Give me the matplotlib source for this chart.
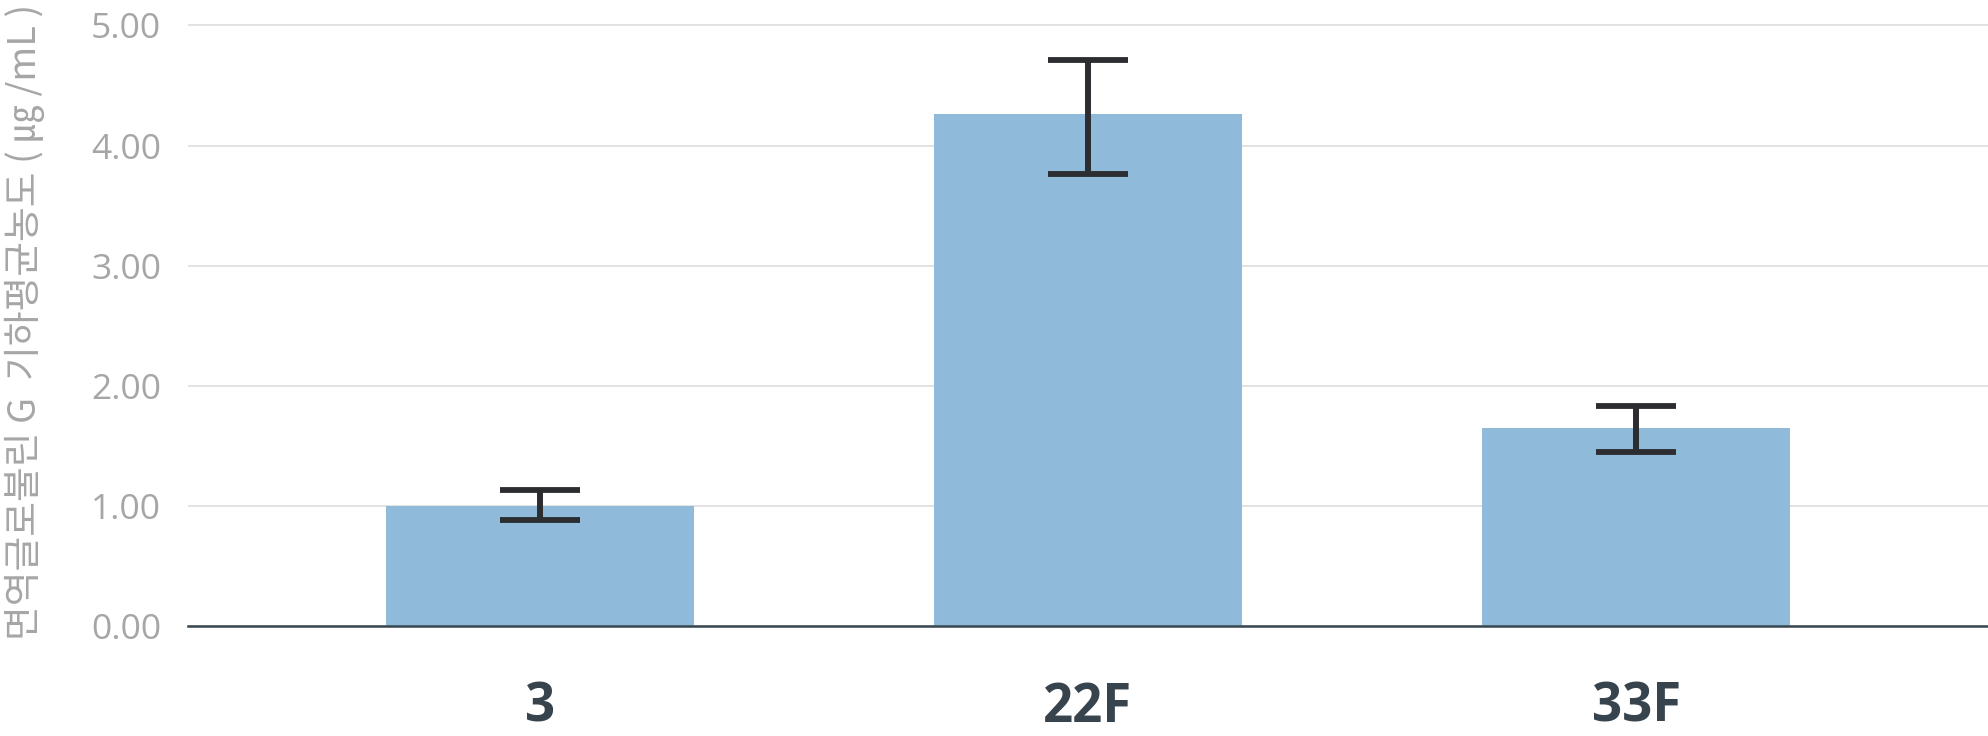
import matplotlib
matplotlib.use("Agg")
import matplotlib.pyplot as plt
import numpy as np

categories = ["3", "22F", "33F"]
values = [1.00, 4.26, 1.65]
err_low = [0.885, 3.76, 1.45]
err_high = [1.135, 4.71, 1.835]
yticks = [0, 1, 2, 3, 4, 5]
ytick_labels = ["0.00", "1.00", "2.00", "3.00", "4.00", "5.00"]
ylabel = "면역글로불린 G  기하평균농도 ( ㎍ /mL )"

W, H = 1988, 736
fig = plt.figure(figsize=(W / 100, H / 100), dpi=100)
ax_left, ax_right = 187.6, 1988
ax_bottom = 626.4
ax_top = 19.4
ax = fig.add_axes([ax_left / W, 1 - ax_bottom / H, (ax_right - ax_left) / W, (ax_bottom - ax_top) / H])

x = np.arange(len(categories))
vals = np.array(values)
yerr = np.vstack([vals - np.array(err_low), np.array(err_high) - vals])

ax.bar(x, vals, width=0.5615, color="#90BADA", zorder=2)
ax.errorbar(x, vals, yerr=yerr, fmt="none", ecolor="#2B2D30", elinewidth=4.3,
            capsize=28.8, capthick=4.2, zorder=3)

ax.set_xlim(-0.643, 2.642)
ax.set_ylim(0, 5.05)
ax.set_yticks(yticks)
ax.set_yticklabels(ytick_labels, fontfamily="Open Sans", fontsize=25.5, color="#A6A6A6")
ax.set_xticks(x)
ax.set_xticklabels(categories, fontfamily="Open Sans", fontweight="bold", fontsize=38, color="#37434D")

ax.tick_params(axis="y", length=0, pad=19)
ax.tick_params(axis="x", length=0, pad=39)
ax.grid(axis="y", color="#DDDDDD", linewidth=1.2, zorder=0)
ax.set_axisbelow(True)
for s in ["top", "right", "left"]:
    ax.spines[s].set_visible(False)
ax.spines["bottom"].set_color("#37474F")
ax.spines["bottom"].set_linewidth(1.8)
ax.spines["bottom"].set_zorder(4)

fig.text(25 / W, 1 - 322 / H, ylabel, rotation=90, ha="center", va="center",
         fontsize=27.2, color="#A6A6A6", family=["Noto Sans CJK KR", "DejaVu Sans"])

fig.savefig("out.png", dpi=100)
